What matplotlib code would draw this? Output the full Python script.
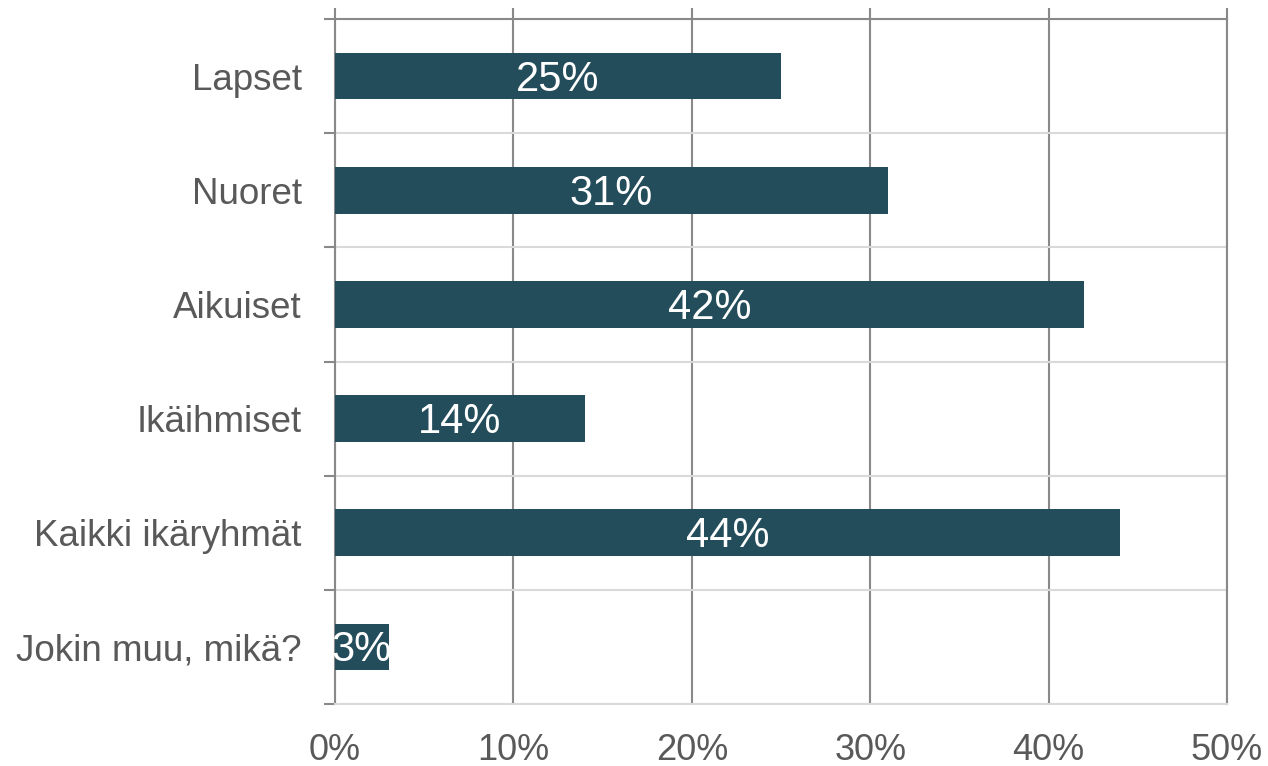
import matplotlib
matplotlib.use("Agg")
import matplotlib.pyplot as plt
import numpy as np

categories = ["Lapset", "Nuoret", "Aikuiset", "Ikäihmiset", "Kaikki ikäryhmät", "Jokin muu, mikä?"]
values = [25, 31, 42, 14, 44, 3]
xticks = [0, 10, 20, 30, 40, 50]
xtick_labels = ["0%", "10%", "20%", "30%", "40%", "50%"]

plt.rcParams['font.family'] = ['Liberation Sans', 'DejaVu Sans']

W, H = 1268, 766
fig = plt.figure(figsize=(W / 100, H / 100), dpi=100)
ax = fig.add_axes([335 / W, 1 - 704 / H, (1227 - 335) / W, (704 - 19) / H])

dark = "#898989"
light = "#d9d9d9"
text_c = "#595959"
bar_c = "#234d5a"

y = np.arange(len(categories))
ax.barh(y, values, height=0.41, color=bar_c, zorder=3)
for yi, v in zip(y, values):
    ax.text(v / 2, yi + 0.03, f"{v}%", ha="center", va="center", color="white",
            fontsize=30, zorder=4)

ax.set_xlim(0, 50)
ax.set_ylim(len(categories) - 0.5, -0.5)

ax.set_xticks(xticks)
ax.set_xticklabels(xtick_labels)
ax.tick_params(axis="x", top=True, bottom=False, labeltop=False, labelbottom=True,
               length=8, width=1.5, color=dark, labelsize=26, labelcolor=text_c, pad=13)
ax.set_yticks(y)
ax.set_yticklabels(categories)
ax.tick_params(axis="y", which="major", length=0, labelsize=26.5, labelcolor=text_c, pad=24)
ax.set_yticks(np.arange(-0.5, len(categories) + 0.5, 1), minor=True)
ax.tick_params(axis="y", which="minor", length=8, width=1.5, color=dark)

ax.grid(axis="x", which="major", color=dark, linewidth=1.5, zorder=1)
ax.grid(axis="y", which="minor", color=light, linewidth=1.5, zorder=0)
ax.set_axisbelow(True)

ax.spines["left"].set_color(dark)
ax.spines["left"].set_linewidth(1.5)
ax.spines["top"].set_color(dark)
ax.spines["top"].set_linewidth(1.5)
ax.spines["right"].set_color(dark)
ax.spines["right"].set_linewidth(1.5)
ax.spines["bottom"].set_color(light)
ax.spines["bottom"].set_linewidth(1.5)

fig.savefig("out.png", dpi=100)
